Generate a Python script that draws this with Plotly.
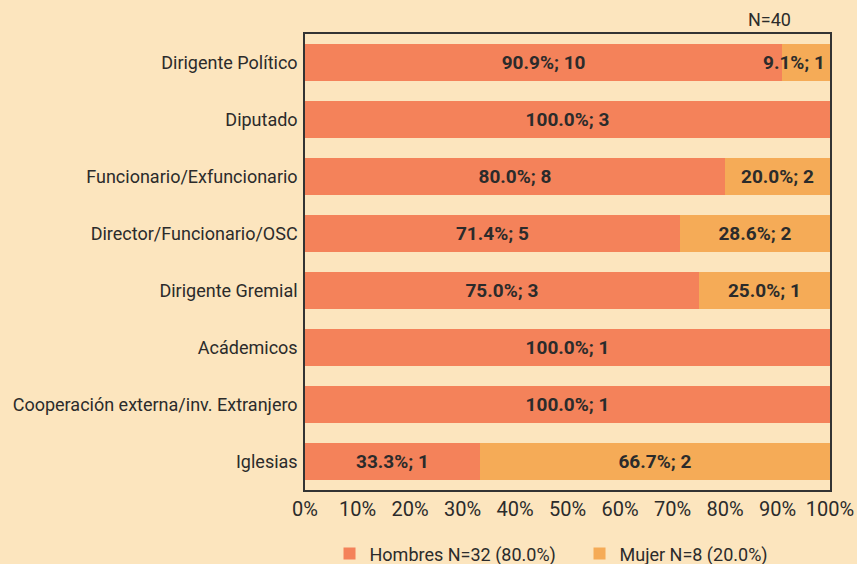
import plotly.graph_objects as go

categories = ["Dirigente Político", "Diputado", "Funcionario/Exfuncionario",
              "Director/Funcionario/OSC", "Dirigente Gremial", "Acádemicos",
              "Cooperación externa/inv. Extranjero", "Iglesias"]
hombres_n = [10, 3, 8, 5, 3, 1, 1, 1]
mujer_n = [1, 0, 2, 2, 1, 0, 0, 2]
hombres_pct = [90.9, 100.0, 80.0, 71.4, 75.0, 100.0, 100.0, 33.3]
mujer_pct = [9.1, 0.0, 20.0, 28.6, 25.0, 0.0, 0.0, 66.7]
x_ticks = [0, 10, 20, 30, 40, 50, 60, 70, 80, 90, 100]
x_ticklabels = [f"{t}%" for t in x_ticks]

FONT = "Roboto"
TXT = "#2b2b2b"
SMALL = 15  # segments narrower than this (%) get a right-aligned label

def lab(p, n):
    return f"{p:.1f}%; {n}" if n > 0 else ""

h_text = [lab(p, n) for p, n in zip(hombres_pct, hombres_n)]
m_text = [lab(p, n) if p >= SMALL else "" for p, n in zip(mujer_pct, mujer_n)]

fig = go.Figure()
fig.add_trace(go.Bar(
    y=categories, x=hombres_pct, orientation="h", name="Hombres N=32 (80.0%)",
    marker=dict(color="#F4825A", line=dict(width=0)),
    text=h_text, textposition="inside", insidetextanchor="middle",
    constraintext="none", cliponaxis=False,
    textfont=dict(family=FONT, size=19, color=TXT, weight="bold"),
))
fig.add_trace(go.Bar(
    y=categories, x=mujer_pct, orientation="h", name="Mujer N=8 (20.0%)",
    marker=dict(color="#F5AB57", line=dict(width=0)),
    text=m_text, textposition="inside", insidetextanchor="middle",
    constraintext="none", cliponaxis=False,
    textfont=dict(family=FONT, size=19, color=TXT, weight="bold"),
))

annotations = [dict(text="N=40", x=0.885, xref="paper", y=1.0, yref="paper",
                    yanchor="bottom", xanchor="center", showarrow=False, yshift=2,
                    font=dict(family=FONT, size=18, color=TXT))]
for cat, hp, mp, mn in zip(categories, hombres_pct, mujer_pct, mujer_n):
    if 0 < mp < SMALL:
        annotations.append(dict(text=lab(mp, mn), x=hp + mp, y=cat, xref="x", yref="y",
                                xanchor="right", showarrow=False, xshift=-3,
                                font=dict(family=FONT, size=19, color=TXT, weight="bold")))

fig.update_layout(
    barmode="stack", bargap=0.35,
    width=857, height=564,
    paper_bgcolor="#FCE5BE", plot_bgcolor="#FCE5BE",
    margin=dict(l=305, r=27, t=34, b=74, autoexpand=False),
    font=dict(family=FONT, size=18, color=TXT),
    showlegend=True,
    legend=dict(orientation="h", x=0.3845, xref="container", xanchor="left",
                y=0.018, yref="container", yanchor="middle",
                font=dict(family=FONT, size=18, color=TXT), traceorder="normal",
                itemwidth=30, entrywidth=205, entrywidthmode="pixels"),
    annotations=annotations,
)
fig.update_xaxes(range=[0, 100], tickvals=x_ticks, ticktext=x_ticklabels,
                 showgrid=False, zeroline=False, showline=True, linecolor="#333333",
                 linewidth=1.5, mirror=True, ticks="", tickfont=dict(size=20),
                 ticklabelstandoff=0, automargin=False)
fig.update_yaxes(autorange="reversed", showgrid=False, showline=True,
                 linecolor="#333333", linewidth=1.5, mirror=True, ticks="",
                 ticklabelstandoff=2, tickfont=dict(size=18), automargin=False)

fig.write_html("out.html", config={"displayModeBar": False},
               post_script="document.body.style.margin='0';")
